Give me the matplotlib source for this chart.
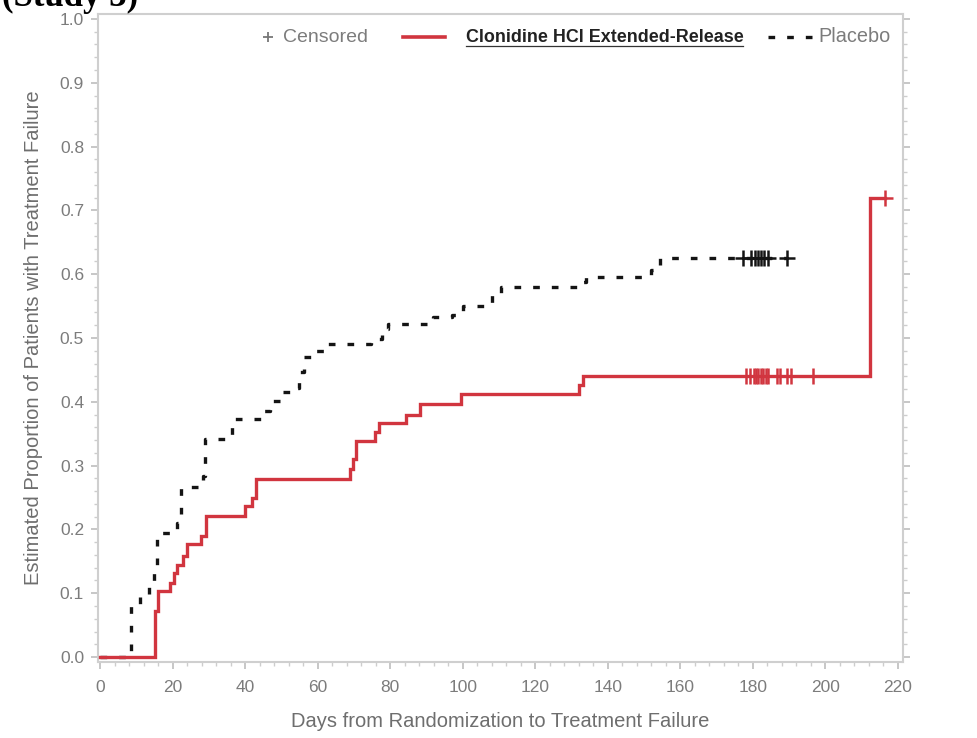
import matplotlib
matplotlib.use('Agg')
import matplotlib.pyplot as plt
from matplotlib.ticker import MultipleLocator, FormatStrFormatter
from matplotlib.lines import Line2D

# ---------------- data ----------------
clon_t = [0, 15.2, 16.0, 19.3, 20.3, 21.3, 22.8, 24.0, 27.9, 29.2, 40.0, 41.8, 43.0,
          69.0, 69.8, 70.6, 75.8, 77.0, 84.5, 88.2, 99.5, 132.2, 133.2, 212.3, 216.4]
clon_s = [0, 0.072, 0.103, 0.116, 0.131, 0.145, 0.158, 0.177, 0.19, 0.221, 0.236, 0.25, 0.279,
          0.295, 0.31, 0.338, 0.352, 0.366, 0.380, 0.397, 0.412, 0.426, 0.441, 0.72, 0.72]
clon_cens_t = [178.0, 179.2, 180.3, 180.8, 181.5, 182.2, 182.9, 183.6, 184.3, 186.6,
               187.5, 189.5, 190.4, 196.6, 216.4]
clon_cens_s = [0.441] * 14 + [0.72]

plac_t = [0, 8.5, 11.0, 13.5, 14.8, 15.6, 21.3, 22.2, 28.3, 29.0, 36.5, 44.5, 47.0, 49.5,
          53.5, 55.0, 56.3, 59.5, 62.0, 74.8, 77.8, 79.5, 91.8, 97.0, 100.0, 108.0, 110.5,
          132.3, 134.0, 152.0, 154.3, 189.3]
plac_s = [0, 0.08, 0.094, 0.116, 0.134, 0.194, 0.21, 0.267, 0.283, 0.341, 0.3725, 0.386,
          0.402, 0.415, 0.422, 0.446, 0.471, 0.479, 0.49, 0.498, 0.514, 0.5215, 0.533, 0.536,
          0.55, 0.567, 0.58, 0.588, 0.596, 0.607, 0.625, 0.625]
plac_cens_t = [177.4, 179.6, 180.5, 181.4, 182.3, 183.2, 184.1, 189.3]
plac_cens_s = [0.625] * 8

x_ticks = list(range(0, 221, 20))
y_ticks = [0.0, 0.1, 0.2, 0.3, 0.4, 0.5, 0.6, 0.7, 0.8, 0.9, 1.0]

legend_labels = ['Censored', 'Clonidine HCl Extended-Release', 'Placebo']
x_label = 'Days from Randomization to Treatment Failure'
y_label = 'Estimated Proportion of Patients with Treatment Failure'
title_fragment = '(Study 3)'

# ---------------- styling ----------------
RED = '#d1353f'
BLACK = '#141414'
GRAY_TXT = '#7c7c7c'
SPINE = '#cfcfcf'
W, H = 977, 738

plt.rcParams['font.family'] = ['Liberation Sans', 'DejaVu Sans']

fig = plt.figure(figsize=(W / 100, H / 100), dpi=100)
ax = fig.add_axes([98 / W, 1 - 662 / H, (903 - 98) / W, (662 - 14) / H])
ax.set_xlim(-0.55, 221.4)
ax.set_ylim(-0.0078, 1.0078)

ax.step(plac_t, plac_s, where='post', color=BLACK, lw=2.4, zorder=3,
        linestyle=(0, (2.0, 3.6)))
ax.step(clon_t, clon_s, where='post', color=RED, lw=2.4, zorder=4, solid_joinstyle='miter')
ax.plot(clon_cens_t, clon_cens_s, linestyle='none', marker='+', ms=11, mew=1.8,
        color=RED, zorder=5)
ax.plot(plac_cens_t, plac_cens_s, linestyle='none', marker='+', ms=11, mew=1.8,
        color=BLACK, zorder=5)

ax.set_xticks(x_ticks)
ax.set_yticks(y_ticks)
ax.xaxis.set_minor_locator(MultipleLocator(4))
ax.yaxis.set_minor_locator(MultipleLocator(0.02))
ax.yaxis.set_major_formatter(FormatStrFormatter('%.1f'))
ax.tick_params(which='major', length=5, width=1.2, color='#bdbdbd',
               labelcolor=GRAY_TXT, labelsize=12.5)
ax.tick_params(which='minor', length=3, width=1.0, color='#cdcdcd')
ax.tick_params(axis='y', which='both', right=True, pad=5)
ax.tick_params(axis='x', which='both', pad=8)
for s in ax.spines.values():
    s.set_color(SPINE)
    s.set_linewidth(1.5)

ax.set_xlabel(x_label, fontsize=14.5, color='#6e6e6e', labelpad=12)
ax.set_ylabel(y_label, fontsize=14.5, color='#6e6e6e', labelpad=12)

# ---------------- legend (drawn inside the plot frame, top) ----------------
def fx(px):
    return px / W


def fy(py):
    return 1 - py / H

ly = 37
fig.add_artist(Line2D([fx(268)], [fy(ly)], marker='+', ms=7, mew=1.3, color='#777777',
                      linestyle='none'))
fig.text(fx(283), fy(ly), legend_labels[0], fontsize=14, color=GRAY_TXT, va='center')
fig.add_artist(Line2D([fx(403), fx(445)], [fy(ly), fy(ly)], color=RED, lw=2.6))
fig.text(fx(466), fy(ly), legend_labels[1], fontsize=12.9, weight='bold', color='#222222',
         va='center')
fig.add_artist(Line2D([fx(466), fx(743)], [fy(45.5), fy(45.5)], color='#333333', lw=0.9))
fig.add_artist(Line2D([fx(768), fx(812)], [fy(ly), fy(ly)], color=BLACK, lw=2.4,
                      linestyle=(0, (2.0, 3.6))))
fig.text(fx(818), fy(ly), legend_labels[2], fontsize=14.3, color=GRAY_TXT, va='center')

# cut-off heading fragment at the very top of the image
fig.text(fx(2), fy(6), title_fragment, fontsize=25, weight='bold', va='baseline',
         family=['Liberation Serif', 'DejaVu Serif'], color='black')

fig.savefig('out.png', dpi=100)
